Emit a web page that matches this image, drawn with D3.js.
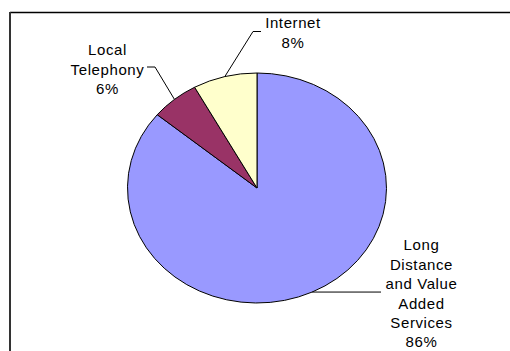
<!DOCTYPE html>
<html><head><meta charset="utf-8">
<script src="https://cdn.jsdelivr.net/npm/d3@7"></script>
<style>
html,body{margin:0;padding:0;background:#fff;}
svg{display:block;}
text{font-family:"Liberation Sans",Arial,sans-serif;font-size:15px;fill:#000;letter-spacing:0.6px;}
</style></head>
<body>
<svg id="chart" width="510" height="351"></svg>
<script>
// Data
const categories = ["Long Distance and Value Added Services", "Local Telephony", "Internet"];
const values = [86, 6, 8];
const colors = ["#9999FF", "#993366", "#FFFFCC"];
const labelLines = [
  ["Long", "Distance", "and Value", "Added", "Services", "86%"],
  ["Local", "Telephony", "6%"],
  ["Internet", "8%"]
];

// Layout
const W = 510, H = 351;
const cx = 257, cy = 188, rx = 129.5, ry = 115;
const lineH = 19.4;
const labelPos = [
  {x: 421.5, y: 250.3},   // first baseline
  {x: 107.5, y: 55.3},
  {x: 293, y: 28.3}
];
// leader elbows / ends
const leaders = [
  pts => [pts, [381, pts[1]]],
  pts => [pts, [155, 67], [147, 67]],
  pts => [pts, [253, 31.5], [261, 31.5]]
];

const svg = d3.select("#chart");

// frame
svg.append("line").attr("x1", 10).attr("y1", 12.5).attr("x2", W + 5).attr("y2", 12.5)
  .attr("stroke", "#000").attr("stroke-width", 1.5);
svg.append("line").attr("x1", 10).attr("y1", 12).attr("x2", 10).attr("y2", H + 5)
  .attr("stroke", "#333").attr("stroke-width", 2);

const pie = d3.pie().sort(null).value(d => d)(values);
const arc = d3.arc().innerRadius(0).outerRadius(rx);

const g = svg.append("g").attr("transform", `translate(${cx},${cy}) scale(1,${ry / rx})`);
g.selectAll("path").data(pie).join("path")
  .attr("d", arc)
  .attr("fill", (d, i) => colors[i])
  .attr("stroke", "#000")
  .attr("stroke-width", 1)
  .attr("vector-effect", "non-scaling-stroke");

// leaders
pie.forEach((d, i) => {
  const a = (d.startAngle + d.endAngle) / 2;
  const p = [cx + rx * Math.sin(a), cy - ry * Math.cos(a)];
  const path = leaders[i](p);
  svg.append("path")
    .attr("d", d3.line()(path))
    .attr("fill", "none")
    .attr("stroke", "#000")
    .attr("stroke-width", 1);
});

// labels
labelLines.forEach((lines, i) => {
  const t = svg.append("text").attr("text-anchor", "middle");
  lines.forEach((s, j) => {
    t.append("tspan").attr("x", labelPos[i].x).attr("y", labelPos[i].y + j * lineH).text(s);
  });
});
</script>
</body></html>
